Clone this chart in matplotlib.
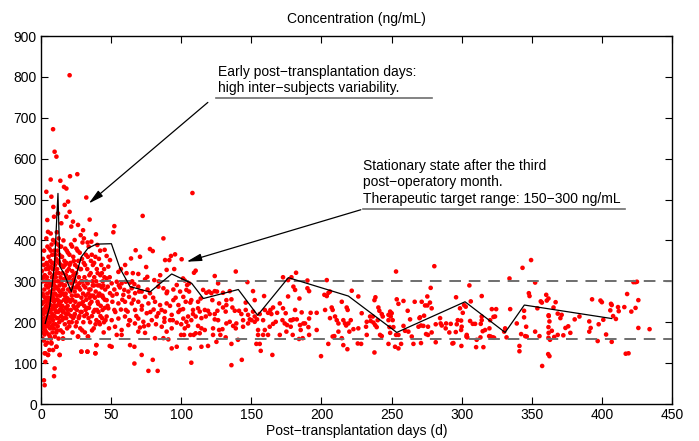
import matplotlib
matplotlib.use("Agg")
import matplotlib.pyplot as plt

plt.rcParams['font.family'] = ['Liberation Sans', 'DejaVu Sans']

early_pts = [
    (0.5, 175), (0.5, 210), (0.8, 245), (1.0, 190), (1.0, 160), (1.2, 230), (1.3, 300), (1.5, 200),
    (1.5, 265), (1.7, 185), (1.8, 220), (2.0, 340), (2.0, 155), (2.1, 250), (2.3, 195), (2.4, 280),
    (2.5, 170), (2.6, 46), (2.6, 124), (2.7, 315), (2.8, 210), (3.0, 235), (3.0, 180), (3.1, 103),
    (3.2, 260), (3.3, 145), (3.5, 330), (3.5, 205), (3.6, 290), (3.8, 405), (3.8, 519), (3.9, 175),
    (4.0, 250), (4.0, 225), (4.2, 310), (4.3, 190), (4.5, 450), (4.5, 270), (4.6, 150), (4.7, 340),
    (4.8, 215), (5.0, 120), (5.0, 421), (5.0, 285), (5.1, 235), (5.2, 195), (5.4, 360), (5.5, 260),
    (5.6, 170), (5.7, 300), (5.8, 225), (6.0, 380), (6.0, 132), (6.1, 245), (6.2, 200), (6.3, 320),
    (6.4, 275), (6.5, 185), (6.6, 350), (6.7, 230), (6.9, 549), (6.9, 417), (7.0, 290), (7.0, 160),
    (7.1, 210), (7.2, 335), (7.3, 255), (7.4, 148), (7.4, 507), (7.5, 390), (7.6, 270), (7.7, 190),
    (7.8, 310), (7.9, 240), (8.0, 365), (8.1, 220), (8.2, 175), (8.3, 295), (8.4, 330), (8.5, 260),
    (8.6, 672), (8.6, 401), (8.6, 132), (8.7, 205), (8.8, 482), (8.9, 345), (9.0, 280), (9.0, 235),
    (9.1, 185), (9.2, 315), (9.3, 458), (9.3, 68), (9.4, 250), (9.5, 375), (9.6, 215), (9.7, 617),
    (9.7, 87), (9.8, 300), (9.9, 165), (10.0, 340), (10.0, 270), (10.2, 230), (10.3, 395), (10.4, 195),
    (10.5, 310), (10.6, 255), (10.8, 355), (10.9, 175), (11.0, 605), (11.0, 140), (11.1, 285), (11.2, 240),
    (11.3, 420), (11.4, 210), (11.5, 330), (11.6, 265), (11.8, 375), (11.9, 190), (12.0, 300), (12.1, 466),
    (12.2, 225), (12.3, 350), (12.4, 280), (12.5, 160), (12.6, 405), (12.7, 245), (12.8, 320), (13.0, 200),
    (13.1, 365), (13.2, 290), (13.3, 120), (13.4, 230), (13.5, 385), (13.6, 265), (13.8, 546), (13.9, 310),
    (14.0, 180), (14.1, 250), (14.2, 340), (14.4, 215), (14.5, 442), (14.6, 295), (14.8, 270), (15.0, 360),
    (15.0, 205), (15.2, 240), (15.4, 320), (15.6, 175), (15.7, 160), (15.8, 280), (16.0, 400), (16.1, 225),
    (16.3, 305), (16.4, 531), (16.5, 255), (16.7, 350), (16.9, 487), (17.0, 195), (17.1, 290), (17.3, 380),
    (17.4, 235), (17.6, 270), (17.8, 315), (18.0, 210), (18.1, 527), (18.1, 458), (18.2, 345), (18.4, 260),
    (18.6, 185), (18.8, 300), (19.0, 240), (19.2, 370), (19.3, 495), (19.4, 280), (19.6, 220), (19.8, 330),
    (20.0, 255), (20.2, 190), (20.4, 804), (20.4, 470), (20.5, 310), (20.7, 557), (20.8, 275), (21.0, 345),
    (21.2, 230), (21.4, 390), (21.6, 434), (21.7, 295), (21.9, 200), (22.0, 265), (22.3, 325), (22.5, 175),
    (22.8, 446), (22.9, 285), (23.0, 360), (23.2, 240), (23.5, 305), (23.7, 215), (24.0, 401), (24.0, 275),
    (24.3, 340), (24.5, 250), (24.8, 190), (25.0, 320), (25.3, 380), (25.5, 230), (25.9, 562), (26.0, 290),
    (26.2, 265), (26.4, 438), (26.4, 165), (26.6, 350), (26.9, 210), (27.0, 310), (27.3, 245), (27.6, 370),
    (27.9, 280), (28.0, 185), (28.3, 413), (28.5, 330), (28.8, 128), (28.8, 260), (29.0, 225), (29.3, 300),
    (29.6, 395), (30.0, 425), (30.0, 270), (30.2, 200), (30.5, 345), (30.8, 240), (31.0, 310), (31.3, 175),
    (31.6, 285), (32.0, 365), (32.3, 505), (32.3, 255), (32.6, 220), (33.0, 330), (33.1, 128), (33.3, 295),
    (33.5, 165), (33.8, 270), (34.0, 385), (34.2, 235), (34.5, 315), (34.7, 451), (35.0, 200), (35.3, 280),
    (35.6, 350), (35.9, 397), (36.0, 250), (36.3, 215), (36.6, 300), (37.0, 340), (37.3, 265), (37.6, 185),
    (38.0, 310), (38.3, 230), (38.8, 124), (38.8, 360), (39.0, 275), (39.5, 144), (39.5, 205), (39.8, 330),
    (40.2, 389), (40.3, 250), (40.6, 290), (41.0, 225), (41.3, 355), (41.6, 270), (42.0, 195), (42.3, 315),
    (42.6, 240), (43.0, 340), (43.3, 285), (43.6, 210), (44.0, 300), (44.3, 260), (44.7, 175), (45.0, 330),
    (45.4, 377), (45.4, 235), (45.8, 280), (46.0, 205),
    (1.2, 270), (1.8, 310), (2.2, 225), (2.9, 260), (3.4, 190), (3.7, 240), (4.1, 200), (4.4, 300),
    (4.9, 255), (5.3, 330), (5.9, 210), (6.3, 165), (6.8, 255), (7.2, 230), (7.7, 345), (8.2, 265),
    (8.8, 195), (9.3, 330), (9.8, 240), (10.4, 285), (10.9, 320), (11.4, 180), (11.9, 255), (12.4, 210),
    (12.9, 345), (13.4, 275), (13.9, 240), (14.4, 385), (14.9, 230), (15.4, 270), (15.9, 335), (16.4, 210),
    (16.9, 265), (17.4, 305), (17.9, 250), (18.4, 375), (18.9, 230), (19.4, 305), (19.9, 200), (20.4, 340),
    (20.9, 250), (21.4, 215), (21.9, 300), (22.4, 255), (22.9, 210), (23.4, 350), (23.9, 235), (24.4, 300),
    (24.9, 265), (25.4, 200), (25.9, 335), (26.4, 240), (26.9, 285), (27.4, 215), (27.9, 330), (28.4, 245),
    (28.9, 300), (29.4, 180), (29.9, 250), (30.4, 290), (30.9, 215), (31.4, 340), (31.9, 265), (32.4, 300),
    (32.9, 235), (33.4, 360), (33.9, 210), (34.4, 280), (34.9, 245), (35.4, 320), (35.9, 265), (36.4, 180),
    (36.9, 290), (37.4, 225), (37.9, 345), (38.4, 260), (38.9, 195), (39.4, 300), (39.9, 230), (40.4, 320),
    (40.9, 265), (41.4, 200), (41.9, 290), (42.4, 215), (42.9, 265), (43.4, 320), (43.9, 230), (44.4, 290),
    (44.9, 200), (45.5, 255),
    (2.1, 58), (3.1, 124), (5.0, 120), (7.4, 150), (11.0, 140), (13.3, 120), (15.7, 160), (26.4, 165),
    (28.8, 128), (33.1, 128), (38.8, 124), (39.5, 144), (49.0, 142), (33.5, 165),
    (0.7, 325), (1.4, 355), (2.2, 375), (3.2, 300), (4.0, 345), (4.6, 385), (5.5, 210), (6.1, 295),
    (7.0, 375), (8.0, 215), (8.5, 310), (9.5, 290), (10.1, 365), (10.7, 225), (11.6, 350), (12.2, 390),
    (13.0, 250), (14.0, 300), (14.7, 360), (15.5, 225), (16.2, 290), (17.0, 340), (17.8, 220), (18.6, 325),
    (19.5, 255), (20.3, 365), (21.1, 280), (22.2, 385), (23.1, 315), (24.1, 220), (25.2, 285), (26.1, 375),
    (27.2, 295), (28.2, 225), (29.2, 355), (30.6, 405), (31.8, 230), (33.2, 395), (34.6, 260), (36.2, 365),
    (37.8, 290), (39.2, 415), (40.8, 245), (42.2, 375), (43.8, 265), (45.2, 310),
]

mid_pts = [
    (72.5, 460), (52.3, 435), (51.6, 420), (87.3, 405), (67.5, 376), (77.7, 379), (79.7, 374), (64.2, 356),
    (70.6, 360), (46.8, 362), (49.2, 352), (48.0, 336), (92.7, 362), (95.6, 366), (91.5, 352), (88.5, 352),
    (89.6, 328), (100.3, 354), (55.2, 323), (69.4, 318), (75.8, 311), (74.2, 305), (80.8, 303),
    (46.8, 307), (50.4, 295), (54.0, 299), (57.5, 295), (60.4, 299), (63.5, 297), (66.6, 293), (69.4, 287),
    (47.6, 287), (52.3, 280), (56.3, 285), (59.4, 279), (62.3, 275), (64.7, 283), (49.2, 271), (54.0, 269),
    (58.7, 267), (62.8, 262), (67.1, 271), (71.8, 275), (74.2, 262), (77.7, 271), (83.7, 287), (87.3, 283),
    (89.6, 271), (94.4, 280), (96.8, 291), (99.2, 275), (101.5, 262), (46.8, 254), (50.9, 250), (55.2, 246),
    (59.9, 250), (64.7, 246), (69.4, 250), (76.6, 246), (81.3, 250), (84.9, 242), (89.6, 246), (94.4, 254),
    (98.0, 242), (48.0, 234), (52.3, 230), (57.0, 231), (61.8, 226), (67.1, 230), (71.8, 231), (75.4, 222),
    (80.3, 231), (83.7, 222), (88.4, 226), (93.2, 218), (99.2, 230), (46.8, 214), (50.4, 205), (55.2, 209),
    (59.9, 214), (63.5, 204), (69.4, 209), (73.0, 201), (79.0, 205), (82.5, 214), (88.0, 201), (92.0, 205),
    (96.8, 199), (101.5, 209), (52.8, 189), (57.5, 181), (62.3, 193), (67.0, 197), (70.6, 187), (76.6, 193),
    (86.1, 189), (93.2, 185), (48.5, 185), (54.0, 169), (57.5, 169), (69.4, 177), (74.2, 174), (89.6, 177),
    (81.3, 161), (87.3, 161), (90.8, 158), (99.9, 169), (50.4, 140), (63.5, 144), (66.6, 140), (93.2, 136),
    (96.8, 140), (71.8, 120), (79.7, 108), (66.6, 99), (76.6, 81), (83.2, 81),
    (47.5, 240), (49.0, 310), (51.0, 265), (53.0, 225), (55.5, 290), (58.0, 255), (60.5, 230), (61.0, 320),
    (63.0, 205), (65.0, 300), (66.0, 255), (68.0, 215), (70.0, 275), (72.0, 240), (73.5, 190), (76.0, 280),
    (78.0, 225), (80.0, 260), (82.0, 195), (84.0, 300), (86.0, 230), (88.0, 210), (90.0, 275), (92.0, 240),
    (94.0, 205), (96.0, 260), (98.0, 225), (100.0, 195), (60.0, 340), (57.0, 330), (65.5, 320), (75.0, 335),
    (85.0, 315), (95.0, 330),
    (110.3, 326), (109.1, 321), (123.9, 313), (138.9, 324), (101.3, 307), (102.5, 302), (104.2, 291),
    (105.6, 295), (126.3, 295), (147.2, 298), (103.7, 279), (105.6, 275), (115.6, 279), (117.9, 272),
    (119.8, 275), (121.5, 271), (123.9, 276), (125.5, 275), (129.8, 272), (134.6, 276), (151.2, 276),
    (103.2, 250), (106.5, 248), (107.2, 254), (112.0, 250), (113.9, 258), (122.2, 254), (127.0, 246),
    (132.2, 254), (135.8, 256), (132.2, 242), (129.8, 236), (131.7, 226), (146.0, 248), (152.4, 254),
    (159.1, 264), (108.4, 230), (104.9, 214), (101.3, 232), (112.0, 234), (113.2, 226), (116.8, 230),
    (119.1, 228), (125.8, 228), (123.9, 220), (120.3, 220), (108.4, 220), (110.3, 214), (114.4, 210),
    (117.5, 214), (123.9, 207), (126.3, 205), (136.5, 236), (138.2, 228), (141.2, 228), (142.9, 220),
    (146.0, 230), (147.7, 218), (148.9, 207), (151.2, 226), (152.4, 214), (156.0, 220), (159.6, 230),
    (163.6, 230), (161.9, 223), (165.5, 236), (164.3, 220), (168.4, 223), (170.3, 246), (172.6, 234),
    (174.5, 222), (176.2, 263), (172.6, 310), (176.2, 303), (178.6, 310), (103.7, 201), (107.2, 205),
    (104.9, 191), (102.5, 185), (112.0, 191), (114.4, 185), (116.8, 181), (110.3, 173), (106.5, 169),
    (108.9, 169), (113.2, 173), (102.0, 169), (122.7, 185), (127.0, 181), (129.4, 183), (122.7, 169),
    (127.9, 169), (132.2, 197), (134.6, 201), (137.0, 191), (139.3, 197), (138.9, 185), (144.1, 205),
    (144.1, 189), (147.7, 197), (150.1, 205), (152.4, 201), (154.1, 207), (158.4, 205), (159.6, 181),
    (154.8, 181), (163.1, 189), (165.5, 196), (167.4, 201), (172.2, 205), (173.8, 197), (175.5, 193),
    (177.9, 205), (175.0, 177), (170.3, 169), (161.9, 169), (158.4, 169), (154.8, 169), (153.6, 147),
    (156.0, 147), (140.5, 157), (131.7, 163), (119.1, 142), (125.1, 152), (106.1, 136), (114.4, 140),
    (135.8, 147), (156.7, 130), (165.0, 120), (135.8, 95), (143.2, 108), (107.2, 101), (108.0, 516),
]

late_pts = [
    (181.9, 321), (180.0, 287), (181.2, 279), (184.3, 258), (190.0, 302), (190.0, 283), (191.2, 276),
    (203.8, 303), (202.1, 267), (203.8, 264), (205.0, 272), (202.6, 230), (206.1, 275), (181.2, 230),
    (178.8, 205), (180.0, 207), (182.4, 207), (185.9, 224), (184.7, 193), (187.1, 197), (188.3, 197),
    (191.2, 209), (192.3, 223), (190.7, 188), (196.6, 223), (196.6, 181), (185.2, 181), (186.6, 161),
    (184.0, 159), (179.5, 169), (178.1, 189), (191.2, 169), (199.7, 117), (204.9, 147), (207.3, 236),
    (208.0, 230), (206.1, 210), (209.7, 214), (210.9, 205), (208.0, 165), (209.2, 166), (212.1, 197),
    (212.1, 177), (214.5, 250), (215.6, 205), (218.0, 236), (218.7, 230), (216.8, 197), (217.6, 192),
    (219.2, 197), (220.9, 205), (219.9, 177), (222.8, 183), (215.6, 144), (218.5, 134), (214.5, 161),
    (221.6, 277), (226.3, 263), (226.3, 185), (228.3, 147), (228.7, 222), (225.9, 148), (232.3, 201),
    (231.8, 189), (232.3, 169), (234.7, 214), (235.1, 203), (236.6, 214), (237.8, 254), (238.5, 261),
    (240.6, 236), (241.3, 228), (237.8, 126), (237.1, 199), (238.3, 193), (239.4, 188), (240.1, 205),
    (243.0, 220), (243.7, 214), (241.8, 169), (243.0, 166), (247.8, 218), (249.0, 226), (249.4, 214),
    (250.1, 222), (250.8, 205), (247.8, 205), (248.5, 188), (249.0, 174), (247.8, 147), (252.5, 140),
    (253.2, 324), (253.7, 256), (254.9, 245), (258.5, 252), (253.2, 169), (254.9, 169), (254.9, 136),
    (256.8, 147), (251.3, 188), (258.5, 191), (259.6, 179), (261.5, 228), (263.2, 207), (262.0, 177),
    (264.4, 165), (265.6, 147), (269.2, 189), (266.5, 250), (269.9, 210),
    (280.5, 337), (277.9, 284), (271.5, 250), (273.9, 241), (275.5, 241), (275.5, 263), (277.4, 248),
    (278.6, 234), (270.3, 212), (273.2, 216), (271.0, 192), (272.7, 191), (276.0, 189), (274.6, 171),
    (276.0, 169), (278.6, 175), (271.0, 149), (281.5, 151), (281.5, 195), (284.6, 210), (285.8, 192),
    (285.0, 197), (288.6, 185), (288.9, 197), (292.2, 196), (291.2, 175), (294.1, 149), (293.4, 148),
    (296.0, 261), (296.5, 195), (297.2, 205), (295.8, 176), (299.6, 181), (300.0, 189), (299.8, 142),
    (299.6, 204), (298.8, 234), (300.8, 223), (301.7, 242), (302.9, 238), (303.6, 169), (303.4, 165),
    (304.0, 163), (305.5, 290), (306.5, 251), (306.0, 203), (307.9, 196), (309.6, 196), (310.7, 157),
    (310.3, 139), (313.6, 196), (313.4, 163), (315.5, 139), (314.3, 264), (314.3, 214), (314.3, 205),
    (315.0, 178), (316.7, 181), (319.6, 166), (320.7, 165), (322.2, 163), (319.8, 185), (320.3, 205),
    (321.5, 232), (322.7, 213), (323.8, 214), (324.6, 232), (323.1, 162), (331.0, 185), (330.3, 177),
    (332.0, 163), (334.1, 307), (334.6, 232), (339.3, 197), (341.2, 142), (341.2, 129), (342.4, 171),
    (343.4, 333), (344.5, 228), (344.5, 212), (346.0, 189), (345.3, 166), (346.4, 165), (347.9, 271),
    (348.4, 264), (349.5, 352), (352.4, 297), (352.4, 177), (354.0, 234), (355.5, 166), (356.4, 251),
    (357.2, 248), (357.4, 93), (360.3, 267), (360.7, 253), (361.9, 258), (362.1, 215), (362.6, 202),
    (361.9, 188), (361.9, 162), (361.7, 122), (362.6, 117),
    (367.0, 249), (365.5, 236), (362.0, 217), (368.5, 221), (371.3, 218), (370.4, 210), (364.3, 179),
    (362.0, 174), (366.0, 164), (363.0, 157), (368.5, 169), (372.5, 168), (374.0, 186), (376.0, 190),
    (377.5, 174), (380.6, 207), (384.0, 214), (393.0, 256), (399.0, 253), (400.0, 249), (391.0, 202),
    (392.0, 186), (391.0, 177), (397.7, 195), (401.0, 206), (397.0, 154), (403.0, 170), (406.5, 245),
    (407.0, 242), (406.0, 229), (408.0, 215), (410.0, 208), (411.5, 237), (412.0, 227), (407.0, 152),
    (416.0, 237), (418.0, 269), (421.0, 226), (424.0, 235), (426.0, 254), (426.0, 186), (417.0, 123),
    (419.0, 124), (422.5, 298), (424.0, 298), (425.0, 299), (434.0, 183),
]

# mean concentration curve
mean_days = [3, 6.2, 8.6, 9.7, 12.1, 13.5, 16.4, 21.6, 28.8, 33.5, 39.5, 50.2, 56.3, 63.5, 77.7,
             93.2, 107.5, 115.8, 140.7, 154.5, 176.4, 219.2, 253.7, 302.4, 331, 344.7, 407]
mean_conc = [197, 238, 311, 344, 515, 336, 319, 275, 360, 381, 391, 392, 332, 287, 274,
             318, 295, 258, 280, 217, 309, 264, 175, 250, 175, 242, 209]

target_low = 158
target_high = 300

fig = plt.figure(figsize=(6.99, 4.41), dpi=100)
ax = fig.add_axes([41 / 699, 1 - 404 / 441, 631 / 699, 368 / 441])

for pts in (early_pts, mid_pts, late_pts):
    d, c = zip(*pts)
    ax.scatter(d, c, s=11, color='#ff0000', edgecolors='none', zorder=2)

for lvl in (target_low, target_high):
    ax.axhline(lvl, color='#6e6e6e', lw=1.4, ls=(0, (6, 4)), zorder=3)

ax.plot(mean_days, mean_conc, color='black', lw=0.9, zorder=4)

ax.set_xlim(0, 450)
ax.set_ylim(0, 900)
ax.set_xticks(range(0, 451, 50))
ax.set_yticks(range(0, 901, 100))
ax.tick_params(direction='in', length=5, width=0.8, top=True, right=True, labelsize=10, pad=3)
for s in ax.spines.values():
    s.set_linewidth(1.0)

ax.set_title('Concentration (ng/mL)', fontsize=10, pad=9)
ax.set_xlabel('Post\u2212transplantation days (d)', fontsize=10, labelpad=1.5)

arrow_style = dict(arrowstyle='-|>,head_length=0.9,head_width=0.22', color='black', lw=0.9)

# annotations
ax.text(126, 755, 'Early post\u2212transplantation days:\nhigh inter\u2212subjects variability.',
        fontsize=10, linespacing=1.2, va='bottom', ha='left')
ax.plot([124.5, 279], [749, 749], color='#6e6e6e', lw=1.2)
ax.annotate('', xy=(32.5, 486), xytext=(120.5, 742), arrowprops=arrow_style)

ax.text(229.5, 485, 'Stationary state after the third\npost\u2212operatory month.\n'
        'Therapeutic target range: 150\u2212300 ng/mL',
        fontsize=10, linespacing=1.2, va='bottom', ha='left')
ax.plot([229.5, 416.5], [477, 477], color='#6e6e6e', lw=1.2)
ax.annotate('', xy=(101.9, 346), xytext=(230, 477), arrowprops=arrow_style)

plt.savefig('out.png', dpi=100)
